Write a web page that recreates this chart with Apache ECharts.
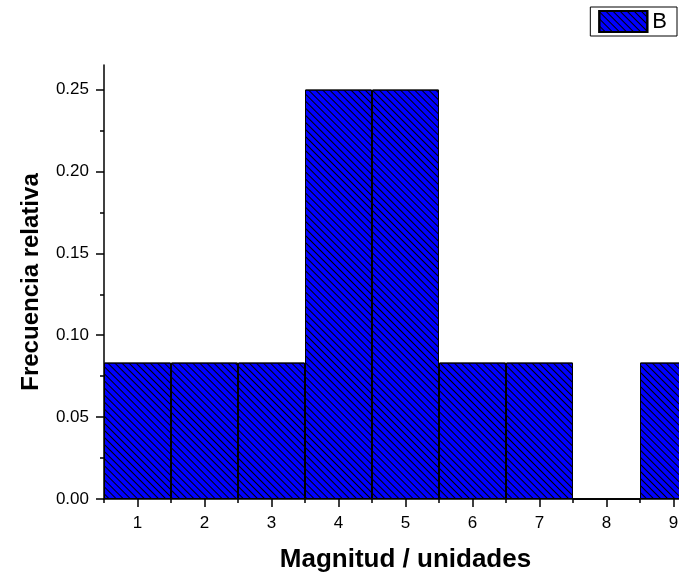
<!DOCTYPE html>
<html>
<head>
<meta charset="utf-8">
<script src="https://cdn.jsdelivr.net/npm/echarts@6/dist/echarts.min.js"></script>
<style>
  html, body { margin: 0; padding: 0; background: #fff; }
  #zhu { width: 679px; height: 573px; }
</style>
</head>
<body>
<div id="zhu"></div>
<script>
// histogram data
let categories = ['1', '2', '3', '4', '5', '6', '7', '8', '9'];
let frecuencia = [0.0833, 0.0833, 0.0833, 0.25, 0.25, 0.0833, 0.0833, 0, 0.0833];
let yMajor = [0, 0.05, 0.10, 0.15, 0.20, 0.25];
let yMinor = [0.025, 0.075, 0.125, 0.175, 0.225];

let font = "'Liberation Sans', Arial, sans-serif";
let chartDom = document.getElementById('zhu');
let myChart = echarts.init(chartDom);
let option;

option = {
  animation: false,
  grid: {
    left: 104,
    width: 603,
    top: 65,
    bottom: 74,
    containLabel: false,
    outerBoundsMode: 'none'
  },
  legend: {
    data: ['B'],
    right: 2,
    top: 7,
    borderColor: '#000',
    borderWidth: 1,
    padding: [3, 10, 3, 8],
    itemWidth: 48,
    itemHeight: 21,
    icon: 'rect',
    textStyle: { fontFamily: font, fontSize: 22, color: '#000' }
  },
  xAxis: [
    {
      type: 'category',
      data: categories,
      boundaryGap: true,
      name: 'Magnitud / unidades',
      nameLocation: 'middle',
      nameGap: 48,
      nameTextStyle: { fontFamily: font, fontSize: 26, fontWeight: 'bold', color: '#000' },
      axisLine: { lineStyle: { color: '#000', width: 1.5 } },
      axisTick: { show: true, length: 4, lineStyle: { color: '#000', width: 1.5 } },
      axisLabel: { margin: 16, fontFamily: font, fontSize: 17, color: '#000' },
      splitLine: { show: false }
    },
    {
      type: 'category',
      data: categories,
      boundaryGap: true,
      position: 'bottom',
      axisLine: { show: false },
      axisTick: { show: true, alignWithLabel: true, length: 8, lineStyle: { color: '#000', width: 1.5 } },
      axisLabel: { show: false },
      splitLine: { show: false }
    }
  ],
  yAxis: [
    {
      type: 'value',
      min: 0,
      max: 0.265,
      name: 'Frecuencia relativa',
      nameLocation: 'middle',
      nameGap: 61,
      nameTextStyle: { fontFamily: font, fontSize: 24, fontWeight: 'bold', color: '#000' },
      axisLine: { show: true, lineStyle: { color: '#000', width: 1.5 } },
      axisTick: { show: true, length: 8, customValues: yMajor, lineStyle: { color: '#000', width: 1.5 } },
      axisLabel: {
        margin: 15,
        customValues: yMajor,
        fontFamily: font,
        fontSize: 17,
        color: '#000',
        formatter: function (v) { return v.toFixed(2); }
      },
      splitLine: { show: false }
    },
    {
      type: 'value',
      min: 0,
      max: 0.265,
      position: 'left',
      axisLine: { show: false },
      axisTick: { show: true, length: 4, customValues: yMinor, lineStyle: { color: '#000', width: 1.5 } },
      axisLabel: { show: false },
      splitLine: { show: false }
    }
  ],
  series: [
    {
      name: 'B',
      type: 'bar',
      xAxisIndex: 0,
      yAxisIndex: 0,
      barWidth: '100%',
      data: frecuencia,
      itemStyle: {
        color: '#0000ff',
        borderColor: '#000',
        borderWidth: 1,
        decal: {
          symbol: 'rect',
          symbolSize: 1,
          color: '#000',
          dashArrayX: [1, 0],
          dashArrayY: [1, 4],
          rotation: Math.PI / 4
        }
      }
    }
  ]
};

option && myChart.setOption(option);
</script>
</body>
</html>
